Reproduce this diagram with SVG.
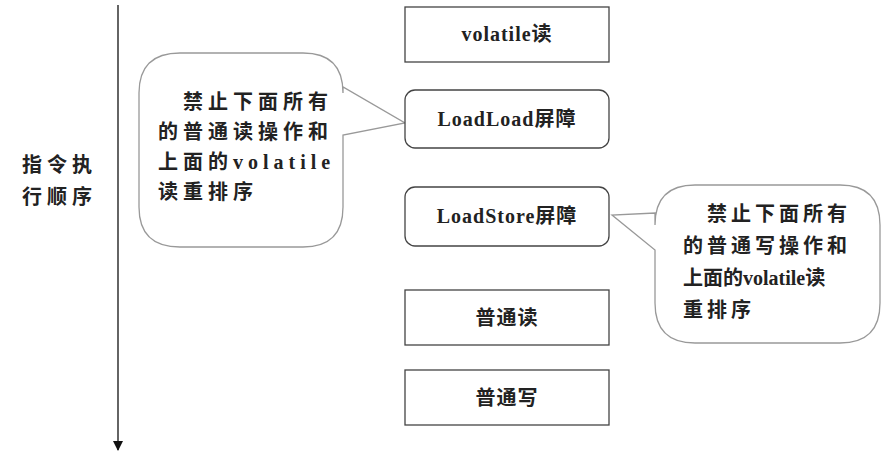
<svg xmlns="http://www.w3.org/2000/svg" width="884" height="466" viewBox="0 0 884 466">
<style>
.b{fill:#fff;stroke:#444;stroke-width:1.3}
.c{fill:#fff;stroke:#999;stroke-width:1.3}
text{font-family:"Liberation Serif","Noto Sans CJK SC",serif;font-size:20px;fill:#222;font-weight:bold}
.m{text-anchor:middle;letter-spacing:1px}
.s{letter-spacing:5px}
.r{letter-spacing:4px}
</style>
<defs><marker id="a" markerWidth="10" markerHeight="10" refX="9" refY="5" orient="auto" markerUnits="userSpaceOnUse"><path d="M0,0 L10,5 L0,10 Z" fill="#111"/></marker></defs>
<rect width="884" height="466" fill="#fff"/>
<g id="connectors">
<line x1="118" y1="5" x2="118" y2="450" stroke="#111" stroke-width="1.3" marker-end="url(#a)"/>
</g>
<g id="axis-label"><text class="s" x="22" y="172">指令执</text><text class="s" x="22" y="204">行顺序</text></g>
<g id="callout-left">
<path class="c" d="M180,53 H303 Q343,53 343,93 V87 L405,123 L343,135 V207 Q343,247 303,247 H180 Q139,247 139,207 V93 Q139,53 180,53 Z"/>
<text class="s" x="183" y="109">禁止下面所有</text>
<text class="s" x="158" y="139">的普通读操作和</text>
<text class="s" x="158" y="169">上面的volatile</text>
<text class="s" x="158" y="199">读重排序</text>
</g>
<g id="callout-right">
<path class="c" d="M695,185 H840 Q880,185 880,225 V303 Q880,343 840,343 H695 Q655,343 655,303 V250 L612,215 L655,213 V225 Q655,185 695,185 Z"/>
<text class="r" x="707" y="221">禁止下面所有</text>
<text class="r" x="683" y="253">的普通写操作和</text>
<text x="683" y="285">上面的volatile读</text>
<text class="r" x="683" y="317">重排序</text>
</g>
<g id="n1"><rect class="b" x="405" y="7" width="204" height="55"/><text class="m" x="507" y="41">volatile读</text></g>
<g id="n2"><rect class="b" x="405" y="90" width="204" height="58" rx="10"/><text class="m" x="507" y="126">LoadLoad屏障</text></g>
<g id="n3"><rect class="b" x="405" y="187" width="204" height="59" rx="10"/><text class="m" x="507" y="223">LoadStore屏障</text></g>
<g id="n4"><rect class="b" x="405" y="290" width="204" height="55"/><text class="m" x="507" y="325">普通读</text></g>
<g id="n5"><rect class="b" x="405" y="370" width="204" height="55"/><text class="m" x="507" y="405">普通写</text></g>
</svg>
